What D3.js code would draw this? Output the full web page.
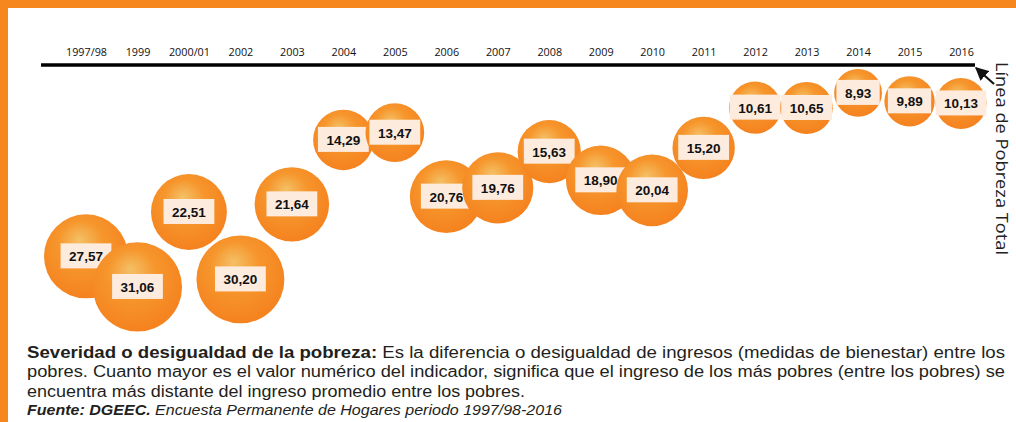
<!doctype html>
<html lang="es">
<head>
<meta charset="UTF-8">
<title>Severidad de la pobreza</title>
<script src="https://cdn.jsdelivr.net/npm/d3@7"></script>
<style>
	body{ margin:0; background:#fff; }
	svg text{ pointer-events:none; }
</style>
</head>
<body>
<script>
// datos
var years = ["1997/98","1999","2000/01","2002","2003","2004","2005","2006","2007","2008",
             "2009","2010","2011","2012","2013","2014","2015","2016"];
var values = [27.57,31.06,22.51,30.20,21.64,14.29,13.47,20.76,19.76,15.63,
              18.90,20.04,15.20,10.61,10.65,8.93,9.89,10.13];
var noteLines = [
	"pobres. Cuanto mayor es el valor numérico del indicador, significa que el ingreso de los más pobres (entre los pobres) se",
	"encuentra más distante del ingreso promedio entre los pobres."
];

var w = 1016, h = 422;
var orange = "#f6871f";

var svg = d3.select("body").append("svg")
	.attr("width", w)
	.attr("height", h)
	.style("font-family", "'Liberation Sans', Arial, sans-serif");

// marco naranja
svg.append("rect").attr("x", 0).attr("y", 0).attr("width", w).attr("height", 8).attr("fill", orange);
svg.append("rect").attr("x", 0).attr("y", 0).attr("width", 8).attr("height", h).attr("fill", orange);

var defs = svg.append("defs");
var grad = defs.append("radialGradient")
	.attr("id", "ball")
	.attr("cx", "0.46").attr("cy", "0.4").attr("r", "0.6")
	.attr("fx", "0.42").attr("fy", "0.3");
grad.append("stop").attr("offset", "0").attr("stop-color", "#f4c066");
grad.append("stop").attr("offset", "0.45").attr("stop-color", "#f6962c");
grad.append("stop").attr("offset", "1").attr("stop-color", "#f5821f");

defs.append("marker")
	.attr("id", "head")
	.attr("viewBox", "0 0 10 10")
	.attr("refX", 9).attr("refY", 5)
	.attr("markerWidth", 6).attr("markerHeight", 6)
	.attr("markerUnits", "strokeWidth")
	.attr("orient", "auto")
	.append("path")
	.attr("d", "M0,0 L10,5 L0,10 Z")
	.attr("fill", "#111");

var x = d3.scalePoint().domain(years).range([86, 961]);
var y = d3.scaleLinear().domain([0, 35]).range([14.6, 321.5]);
var r = d3.scaleSqrt().domain([0, 35]).range([0, 8 * Math.sqrt(35)]);

var lineY = 65;

// linea de pobreza
svg.append("line")
	.attr("x1", x.range()[0] - 45).attr("x2", x.range()[1] + 14)
	.attr("y1", lineY).attr("y2", lineY)
	.attr("stroke", "#000").attr("stroke-width", 3.5);

var axis = svg.append("g")
	.attr("transform", "translate(0," + lineY + ")")
	.call(d3.axisTop(x).tickSize(0).tickPadding(9));
axis.select(".domain").remove();
axis.selectAll("text")
	.attr("font-family", "'Open Sans', sans-serif")
	.attr("font-size", 10.8)
	.attr("fill", "#111");

var fmt = d3.formatLocale({decimal: ",", thousands: ".", grouping: [3], currency: ["", ""]}).format(".2f");

var balls = svg.selectAll("g.ball")
	.data(values)
	.enter()
	.append("g")
	.attr("class", "ball")
	.attr("transform", function(d, i){
		return "translate(" + x(years[i]) + "," + y(d) + ")";
	});

balls.append("circle")
	.attr("r", function(d){ return r(d); })
	.attr("fill", "url(#ball)");

var box = balls.append("rect")
	.attr("fill", "#fdebdd");

var lbl = balls.append("text")
	.attr("text-anchor", "middle")
	.attr("dy", "0.36em")
	.attr("font-weight", "bold")
	.attr("font-size", 13.5)
	.attr("fill", "#111")
	.text(function(d){ return fmt(d); });

lbl.each(function(d, i){
	var tw = this.getComputedTextLength() + 17;
	d3.select(box.nodes()[i])
		.attr("x", -tw / 2).attr("y", -13)
		.attr("width", tw).attr("height", 25);
});

// flecha y rotulo de la linea
svg.append("line")
	.attr("x1", 994).attr("y1", 84)
	.attr("x2", 976).attr("y2", 68)
	.attr("stroke", "#111").attr("stroke-width", 2.2)
	.attr("marker-end", "url(#head)");

svg.append("text")
	.attr("transform", "translate(996,62) rotate(90)")
	.attr("font-family", "'Open Sans', sans-serif")
	.attr("font-size", 16)
	.attr("fill", "#222")
	.attr("textLength", 193)
	.attr("lengthAdjust", "spacingAndGlyphs")
	.text("Línea de Pobreza Total");

// nota al pie
var note = svg.append("g").attr("fill", "#231f20");

var t1 = note.append("text")
	.attr("x", 27).attr("y", 358)
	.attr("font-size", 16)
	.attr("textLength", 978)
	.attr("lengthAdjust", "spacingAndGlyphs");
t1.append("tspan").attr("font-weight", "bold").text("Severidad o desigualdad de la pobreza:");
t1.append("tspan").text(" Es la diferencia o desigualdad de ingresos (medidas de bienestar) entre los");

note.append("text")
	.attr("x", 27).attr("y", 377)
	.attr("font-size", 16)
	.attr("textLength", 978)
	.attr("lengthAdjust", "spacingAndGlyphs")
	.text(noteLines[0]);

note.append("text")
	.attr("x", 27).attr("y", 397)
	.attr("font-size", 16)
	.attr("textLength", 498)
	.attr("lengthAdjust", "spacingAndGlyphs")
	.text(noteLines[1]);

var t4 = note.append("text")
	.attr("x", 27).attr("y", 415)
	.attr("font-size", 14)
	.attr("font-style", "italic")
	.attr("textLength", 535)
	.attr("lengthAdjust", "spacingAndGlyphs");
t4.append("tspan").attr("font-weight", "bold").text("Fuente: DGEEC.");
t4.append("tspan").text(" Encuesta Permanente de Hogares periodo 1997/98-2016");
</script>
</body>
</html>
